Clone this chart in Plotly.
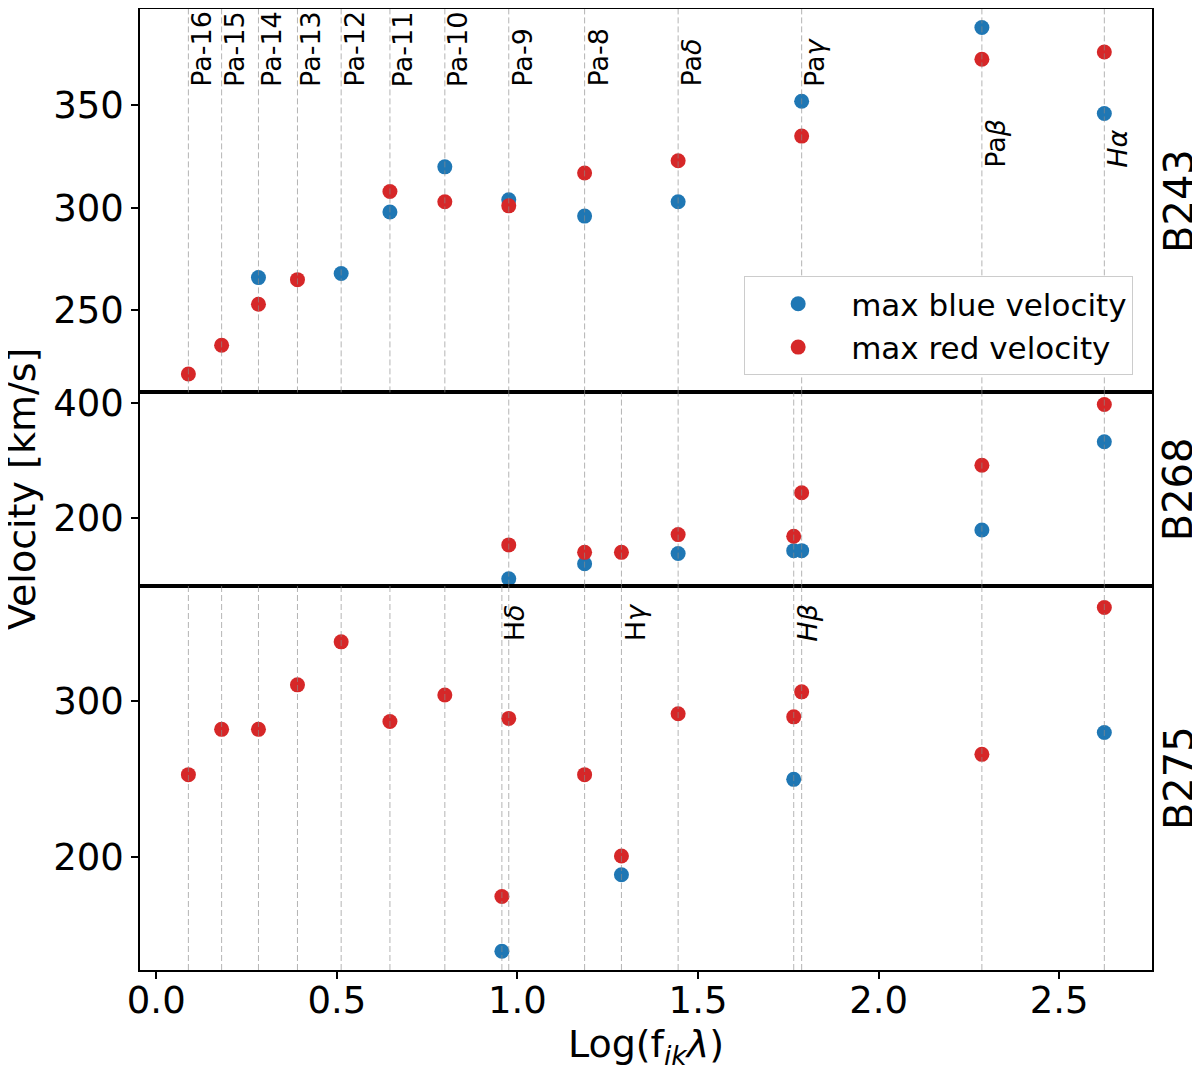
import plotly.graph_objects as go
from plotly.subplots import make_subplots


# Lines and their log(f_ik * lambda)
line_names = ["Pa-16", "Pa-15", "Pa-14", "Pa-13", "Pa-12", "Pa-11", "Pa-10", "Pa-9",
              "Hδ", "Pa-8", "Hγ", "Paδ", "Hβ", "Paγ", "Paβ", "Hα"]
log_f_lambda = [0.089, 0.181, 0.283, 0.391, 0.512, 0.647, 0.799, 0.976,
                0.957, 1.186, 1.288, 1.445, 1.765, 1.787, 2.286, 2.625]

# Velocities (km/s), same order as line_names, None where not measured
b243_blue = [None, None, 266, None, 268, 298, 320, 304, None, 296, None, 303, None, 352, 388, 346]
b243_red = [219, 233, 253, 265, None, 308, 303, 301, None, 317, None, 323, None, 335, 372.5, 376]

b268_blue = [None, None, None, None, None, None, None, 94, None, 120, None, 138, 143, 143, 179, 333]
b268_red = [None, None, None, None, None, None, None, 153, None, 140, 140, 171, 168, 244, 292, 398]

b275_blue = [None, None, None, None, None, None, None, None, 140, None, 189, None, 250, None, None, 280]
b275_red = [253, 282, 282, 310.5, 338, 287, 304, 289, 175, 253, 201, 292, 290, 306, 266, 360]

stars = ["B243", "B268", "B275"]
blue_values = [b243_blue, b268_blue, b275_blue]
red_values = [b243_red, b268_red, b275_red]

y_ranges = [[210, 397], [82, 419], [128, 374]]
y_ticks = [[250, 300, 350], [200, 400], [200, 300]]

# Text labels drawn on the panels: (panel, line, velocity of the label base)
line_labels = [(0, "Pa-16", 358), (0, "Pa-15", 358), (0, "Pa-14", 358), (0, "Pa-13", 358),
               (0, "Pa-12", 358), (0, "Pa-11", 358), (0, "Pa-10", 358), (0, "Pa-9", 358),
               (0, "Pa-8", 358), (0, "Paδ", 358), (0, "Paγ", 358), (0, "Paβ", 318.5),
               (0, "Hα", 318.5), (2, "Hδ", 337), (2, "Hγ", 337), (2, "Hβ", 337)]
label_text = {"Paδ": "Pa<i>δ</i>", "Paγ": "Pa<i>γ</i>", "Paβ": "Pa<i>β</i>",
              "Hα": "<i>Hα</i>", "Hβ": "<i>Hβ</i>", "Hδ": "H<i>δ</i>", "Hγ": "H<i>γ</i>"}

blue_color = "#1f77b4"
red_color = "#d62728"
font_family = "DejaVu Sans"

fig = make_subplots(rows=3, cols=1, shared_xaxes=True, vertical_spacing=0,
                    row_heights=[385, 194, 386])

for i, star in enumerate(stars):
    row = i + 1
    fig.add_trace(go.Scatter(x=log_f_lambda, y=blue_values[i], mode="markers",
                             name="max blue velocity", showlegend=(i == 0),
                             marker=dict(color=blue_color, size=15, line=dict(width=0))),
                  row=row, col=1)
    fig.add_trace(go.Scatter(x=log_f_lambda, y=red_values[i], mode="markers",
                             name="max red velocity", showlegend=(i == 0),
                             marker=dict(color=red_color, size=15, line=dict(width=0))),
                  row=row, col=1)

    # Dashed guide line for every line measured in this star
    xref = "x" if row == 1 else "x%d" % row
    yref = "y" if row == 1 else "y%d" % row
    for k, pos in enumerate(log_f_lambda):
        if blue_values[i][k] is None and red_values[i][k] is None:
            continue
        fig.add_shape(type="line", x0=pos, x1=pos, y0=0, y1=1,
                      xref=xref, yref=yref + " domain", layer="above",
                      line=dict(color="rgba(140,140,140,0.65)", width=1, dash="6px,3px"))

    fig.update_yaxes(range=y_ranges[i], tickvals=y_ticks[i], row=row, col=1)

    # Star name on the right
    fig.add_annotation(text=star, xref="paper", yref=yref + " domain", x=1.026, y=0.5,
                       xanchor="center", yanchor="middle", textangle=-90, showarrow=False,
                       font=dict(size=40, color="black", family=font_family))

for panel, name, vel in line_labels:
    ref = "" if panel == 0 else str(panel + 1)
    fig.add_annotation(text=label_text.get(name, name), x=log_f_lambda[line_names.index(name)], y=vel,
                       xref="x" + ref, yref="y" + ref, xanchor="left", yanchor="bottom",
                       textangle=-90, showarrow=False, xshift=-4,
                       font=dict(size=27, color="black", family=font_family))

fig.add_annotation(text="Velocity [km/s]", xref="paper", yref="paper", x=-0.117, y=0.5,
                   xanchor="center", yanchor="middle", textangle=-90, showarrow=False,
                   font=dict(size=38, color="black", family=font_family))

fig.update_xaxes(range=[-0.045, 2.757], showline=True, linewidth=1.5, linecolor="black",
                 mirror=True, showgrid=False, zeroline=False, ticks="", automargin=False)
fig.update_xaxes(ticks="outside", ticklen=7, tickwidth=1.5, tickcolor="black",
                 tickvals=[0.0, 0.5, 1.0, 1.5, 2.0, 2.5], tickformat=".1f",
                 ticklabelstandoff=-10,
                 title=dict(text="Log(f<sub><i>ik</i></sub><i>λ</i>)", standoff=4,
                            font=dict(size=38)),
                 row=3, col=1)
fig.update_yaxes(showline=True, linewidth=1.5, linecolor="black", mirror=True,
                 showgrid=False, zeroline=False, ticks="outside", ticklen=7,
                 tickwidth=1.5, tickcolor="black", automargin=False)

# page body adds an 8px margin, so the figure is drawn 8px smaller
fig.update_layout(width=1192, height=1067, plot_bgcolor="white", paper_bgcolor="white",
                  margin=dict(l=132, r=48, t=1, b=105),
                  font=dict(family=font_family, size=37, color="black"),
                  legend=dict(x=0.597, y=0.722, xanchor="left", yanchor="top",
                              bgcolor="white", bordercolor="#cccccc", borderwidth=1,
                              font=dict(size=31), itemwidth=96))

fig.write_html("out.html")
